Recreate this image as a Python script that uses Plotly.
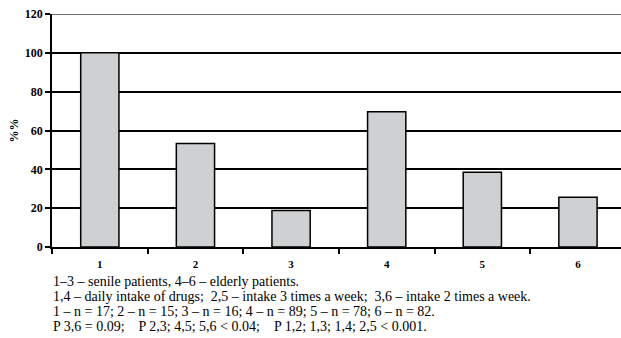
import plotly.graph_objects as go

# Share of patients per group (%), groups 1–6
groups = ["1", "2", "3", "4", "5", "6"]
shares = [100.0, 53.3, 18.8, 69.7, 38.5, 25.6]
y_ticks = [0, 20, 40, 60, 80, 100, 120]

notes = [
    "1–3 – senile patients, 4–6 – elderly patients.",
    "1,4 – daily intake of drugs;&nbsp; 2,5 – intake 3 times a week;&nbsp; 3,6 – intake 2 times a week.",
    "1 – n = 17; 2 – n = 15; 3 – n = 16; 4 – n = 89; 5 – n = 78; 6 – n = 82.",
    "P 3,6 = 0.09;&nbsp;&nbsp;&nbsp; P 2,3; 4,5; 5,6 &lt; 0.04;&nbsp;&nbsp;&nbsp; P 1,2; 1,3; 1,4; 2,5 &lt; 0.001.",
]

SERIF = "Liberation Serif"

fig = go.Figure(
    go.Bar(
        x=groups,
        y=shares,
        width=0.4,
        marker=dict(color="#cfd0d2", line=dict(color="#000000", width=1.5)),
    )
)

fig.update_layout(
    width=621,
    height=338,
    margin=dict(l=52, r=0, t=14, b=91),
    paper_bgcolor="white",
    plot_bgcolor="white",
    showlegend=False,
    font=dict(family=SERIF, color="#000000"),
    xaxis=dict(
        type="category",
        range=[-0.5, 5.45],
        tickson="boundaries",
        ticks="outside",
        ticklen=5,
        tickwidth=1.5,
        tickcolor="#000000",
        ticklabelstandoff=6,
        showline=True,
        linecolor="#000000",
        linewidth=1.5,
        showgrid=False,
        tickfont=dict(family=SERIF, size=11, weight="bold"),
    ),
    yaxis=dict(
        range=[0, 120],
        tickvals=y_ticks,
        ticks="outside",
        ticklen=5,
        tickwidth=1.5,
        tickcolor="#000000",
        showline=True,
        linecolor="#000000",
        linewidth=1.5,
        showgrid=True,
        gridcolor="#000000",
        gridwidth=1.5,
        zeroline=False,
        tickfont=dict(family=SERIF, size=12, weight="bold"),
        title=dict(text="%%", font=dict(family=SERIF, size=12, weight="bold"), standoff=4),
    ),
)

# Upper frame line of the plot area in grey
fig.add_shape(
    type="line", xref="paper", yref="y", x0=0, x1=1, y0=y_ticks[-1], y1=y_ticks[-1],
    line=dict(color="#6e6e6e", width=2), layer="above",
)

# Footnote lines under the axis
line_y = [281, 296, 311, 326]
for text, ypx in zip(notes, line_y):
    fig.add_annotation(
        text=text,
        xref="paper", yref="paper",
        x=0.0, xanchor="left",
        y=(247 - ypx) / 233.0, yanchor="middle",
        showarrow=False,
        borderpad=0,
        font=dict(family=SERIF, size=14, color="#000000"),
    )

fig.write_html("out.html")
